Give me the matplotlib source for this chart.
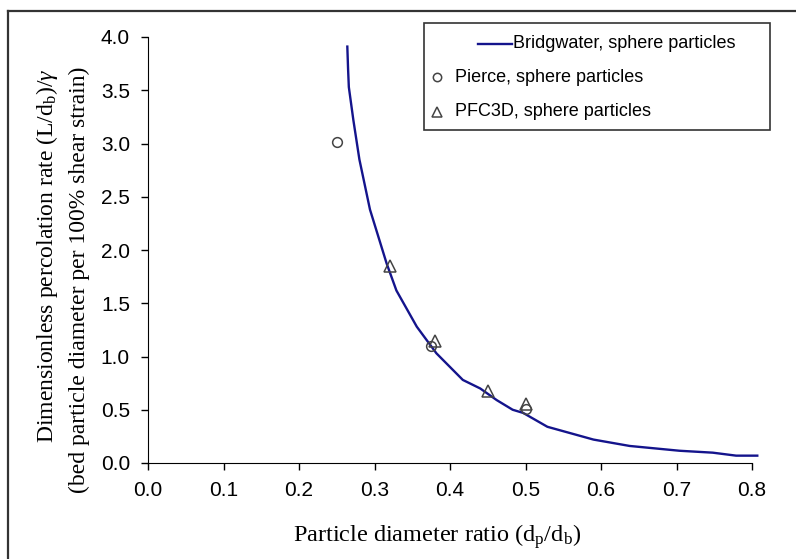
import matplotlib
matplotlib.use('Agg')
import matplotlib.pyplot as plt
from matplotlib.lines import Line2D
from matplotlib.patches import Rectangle

# Bridgwater curve
bw_x = [0.264, 0.265, 0.266, 0.272, 0.280, 0.294, 0.316, 0.329, 0.356, 0.382,
        0.417, 0.440, 0.462, 0.483, 0.497, 0.529, 0.590, 0.638, 0.704, 0.748,
        0.779, 0.807]
bw_y = [3.91, 3.70, 3.53, 3.22, 2.85, 2.38, 1.875, 1.62, 1.28, 1.03,
        0.78, 0.70, 0.59, 0.50, 0.47, 0.34, 0.22, 0.16, 0.115, 0.097,
        0.069, 0.069]

# Pierce, sphere particles
pierce_x = [0.25, 0.375, 0.50]
pierce_y = [3.01, 1.10, 0.51]

# PFC3D, sphere particles
pfc_x = [0.32, 0.38, 0.45, 0.50]
pfc_y = [1.85, 1.15, 0.68, 0.55]

labels = ['Bridgwater, sphere particles', 'Pierce, sphere particles',
          'PFC3D, sphere particles']
xticks = [0.0, 0.1, 0.2, 0.3, 0.4, 0.5, 0.6, 0.7, 0.8]
yticks = [0.0, 0.5, 1.0, 1.5, 2.0, 2.5, 3.0, 3.5, 4.0]

sans = ['Liberation Sans', 'DejaVu Sans']
serif = ['Liberation Serif', 'DejaVu Serif']
plt.rcParams['mathtext.fontset'] = 'custom'
plt.rcParams['mathtext.rm'] = 'Liberation Serif'
plt.rcParams['mathtext.it'] = 'Liberation Serif:italic'

W, H = 796, 559
def fx(px):
    return px / W
def fy(py):
    return 1 - py / H

fig = plt.figure(figsize=(7.96, 5.59), dpi=100)
ax = fig.add_axes([fx(148), fy(463), fx(752) - fx(148), fy(37) - fy(463)])

# outer frame
fig.add_artist(Line2D([fx(8), fx(8)], [0, fy(11)], transform=fig.transFigure,
                      color='#333333', lw=1.6))
fig.add_artist(Line2D([fx(8), 1], [fy(11), fy(11)], transform=fig.transFigure,
                      color='#333333', lw=1.6))

bw_style = dict(color='#14148c', lw=1.7)
pierce_style = dict(ls='none', marker='o', ms=7, mfc='none', mec='#444444', mew=1.1)
pfc_style = dict(ls='none', marker='^', ms=8, mfc='none', mec='#444444', mew=1.1)

ax.plot(bw_x, bw_y, clip_on=False, **bw_style)
ax.plot(pierce_x, pierce_y, **pierce_style)
ax.plot(pfc_x, pfc_y, **pfc_style)

ax.set_xlim(0, 0.8)
ax.set_ylim(0, 4.0)
ax.set_xticks(xticks)
ax.set_yticks(yticks)
ax.set_xticklabels(['%.1f' % v for v in xticks], family=sans, fontsize=15)
ax.set_yticklabels(['%.1f' % v for v in yticks], family=sans, fontsize=15)
ax.tick_params(direction='out', length=5, width=1.0, color='black', pad=8)
ax.spines['top'].set_visible(False)
ax.spines['right'].set_visible(False)

fig.text(fx(437), fy(537), r'Particle diameter ratio (d$_\mathrm{p}$/d$_\mathrm{b}$)',
         family=serif, fontsize=17.5, ha='center', va='center')
fig.text(fx(47), fy(256), r'Dimensionless percolation rate (L/d$_\mathrm{b}$)/$\gamma$',
         family=serif, fontsize=17, rotation=90, ha='center', va='center')
fig.text(fx(79), fy(280), '(bed particle diameter per 100% shear strain)',
         family=serif, fontsize=17, rotation=90, ha='center', va='center')

# legend box, laid out like the original
fig.add_artist(Rectangle((fx(424), fy(130)), fx(770) - fx(424), fy(23) - fy(130),
                         transform=fig.transFigure, fill=False,
                         edgecolor='#333333', lw=1.2))
fig.add_artist(Line2D([fx(478), fx(512)], [fy(44), fy(44)],
                      transform=fig.transFigure, **bw_style))
fig.add_artist(Line2D([fx(437)], [fy(77)], transform=fig.transFigure,
                      ls='none', marker='o', ms=6, mfc='none', mec='#444444', mew=1.1))
fig.add_artist(Line2D([fx(437)], [fy(112)], transform=fig.transFigure,
                      ls='none', marker='^', ms=7, mfc='none', mec='#444444', mew=1.1))
fig.text(fx(513), fy(44), labels[0], family=sans, fontsize=13, va='center')
fig.text(fx(455), fy(77), labels[1], family=sans, fontsize=13, va='center')
fig.text(fx(455), fy(112), labels[2], family=sans, fontsize=13, va='center')

fig.savefig('out.png', dpi=100)
